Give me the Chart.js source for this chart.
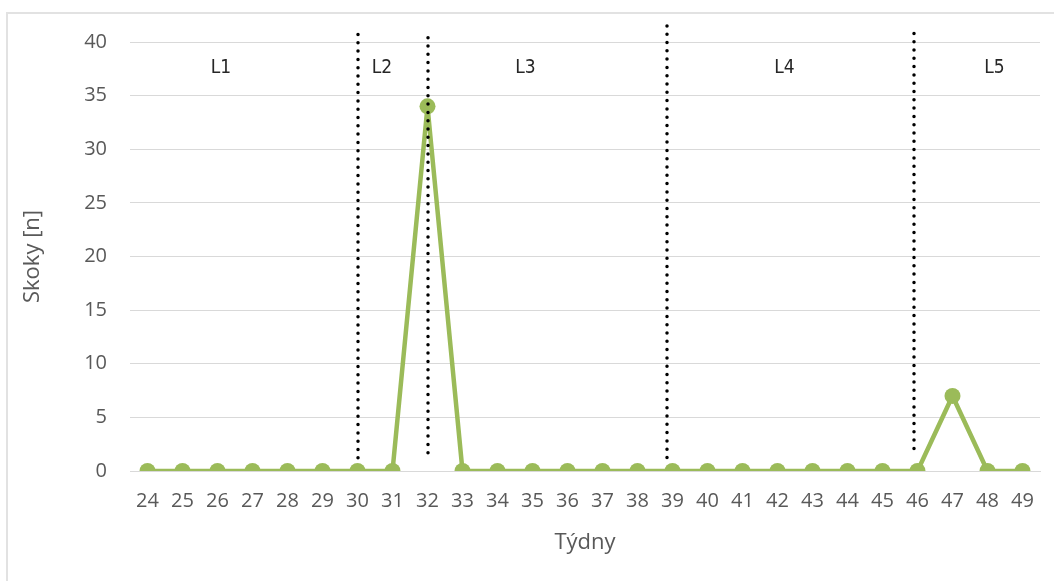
<!DOCTYPE html>
<html>
<head>
<meta charset="utf-8">
<script src="https://cdn.jsdelivr.net/npm/chart.js@4.4.0/dist/chart.umd.min.js"></script>
<style>
  html, body { margin: 0; padding: 0; background: #fff; overflow: hidden; }
  #frame { position: absolute; left: 6px; top: 12px; width: 1100px; height: 620px; border: 2px solid #e2e2e2; }
  #wrap { position: absolute; left: 0; top: 0; width: 1054px; height: 581px; }
</style>
</head>
<body>
<div id="frame"></div>
<div id="wrap"><canvas id="myChart" width="1054" height="581"></canvas></div>
<script>

// weeks on the x axis
var weeks = ['24','25','26','27','28','29','30','31','32','33','34','35','36','37','38','39','40','41','42','43','44','45','46','47','48','49'];

// number of jumps per week
var jumps = [0,0,0,0,0,0,0,0,34,0,0,0,0,0,0,0,0,0,0,0,0,0,0,7,0,0];

// dotted phase separators (week position, top value, bottom value)
var dividerWeeks = [30, 32, 38.85, 45.9];
var dividerTops = [40.7, 40.4, 41.5, 40.8];
var dividerBottoms = [1.2, 1.0, 1.2, 1.4];

// phase labels and where they sit
var phaseNames = ['L1', 'L2', 'L3', 'L4', 'L5'];
var phaseWeeks = [26.1, 30.7, 34.8, 42.2, 48.2];
var phaseLevel = 37.6;

function weekToPixel(scale, w){
	var first = Number(weeks[0]);
	var i = Math.floor(w - first);
	var frac = (w - first) - i;
	var a = scale.getPixelForValue(i);
	var b = scale.getPixelForValue(i + 1);
	return a + (b - a) * frac;
}

const phasePlugin = {
	id: 'phases',
	afterDatasetsDraw(chart){
		const ctx = chart.ctx;
		const xs = chart.scales.x;
		const ys = chart.scales.y;

		ctx.save();
		ctx.strokeStyle = '#000';
		ctx.lineWidth = 3.5;
		ctx.lineCap = 'round';
		ctx.setLineDash([0, 8.3]);
		for(var i = 0; i < dividerWeeks.length; i++){
			var x = Math.round(weekToPixel(xs, dividerWeeks[i]));
			ctx.beginPath();
			ctx.moveTo(x, ys.getPixelForValue(dividerTops[i]));
			ctx.lineTo(x, ys.getPixelForValue(dividerBottoms[i]));
			ctx.stroke();
		}
		ctx.setLineDash([]);

		ctx.fillStyle = '#262626';
		ctx.font = '19px "Liberation Sans Narrow", "DejaVu Sans Condensed", "Open Sans", sans-serif';
		ctx.textAlign = 'center';
		ctx.textBaseline = 'middle';
		for(var j = 0; j < phaseNames.length; j++){
			ctx.fillText(phaseNames[j], weekToPixel(xs, phaseWeeks[j]), ys.getPixelForValue(phaseLevel));
		}
		ctx.restore();
	}
};

const ctx = document.getElementById('myChart').getContext('2d');
const chart = new Chart(ctx, {
	type: 'line',
	data: {
		labels: weeks,
		datasets: [{
			label: 'Skoky',
			data: jumps,
			borderColor: '#9bbb59',
			backgroundColor: '#9bbb59',
			borderWidth: 4.5,
			pointRadius: 8,
			pointHoverRadius: 8,
			pointBorderWidth: 0,
			tension: 0
		}]
	},
	options: {
		responsive: false,
		animation: false,
		events: [],
		layout: { padding: { left: 0, right: 14, top: 42, bottom: 0 } },
		plugins: {
			legend: { display: false },
			tooltip: { enabled: false }
		},
		scales: {
			x: {
				offset: true,
				grid: { display: false, drawTicks: false },
				border: { display: true, color: '#d9d9d9', width: 1 },
				ticks: { color: '#595959', padding: 18, maxRotation: 0, autoSkip: false, font: { family: 'Open Sans', size: 20 } },
				title: { display: true, text: 'Týdny', color: '#595959', font: { family: 'Open Sans', size: 22 }, padding: { top: 0, bottom: 25 } },
				afterFit(scale){ scale.height = 110; }
			},
			y: {
				min: 0,
				max: 40,
				ticks: { stepSize: 5, color: '#595959', padding: 23, font: { family: 'Open Sans', size: 20 } },
				grid: { color: '#d9d9d9', lineWidth: 1, drawTicks: false },
				border: { display: false },
				title: { display: true, text: 'Skoky [n]', color: '#595959', font: { family: 'Open Sans', size: 22 }, padding: { top: 20, bottom: 0 } },
				afterFit(scale){ scale.width = 130; }
			}
		}
	},
	plugins: [phasePlugin]
});

</script>
</body>
</html>
